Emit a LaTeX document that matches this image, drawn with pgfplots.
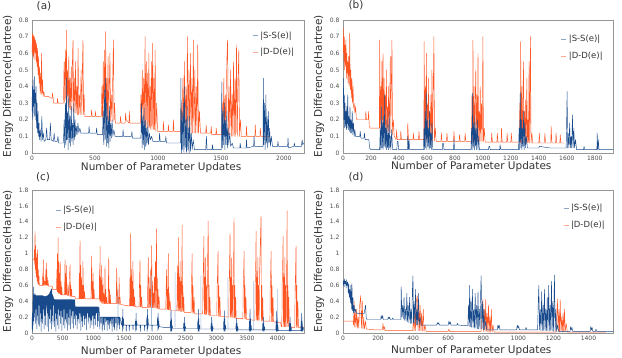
\documentclass[border=0pt]{standalone}
\usepackage{pgfplots}
\pgfplotsset{compat=1.18}
\usepackage{fontspec}
\setmainfont{DejaVu Sans}

\definecolor{sblue}{RGB}{25,75,140}
\definecolor{lblue}{RGB}{165,190,218}
\definecolor{dorange}{RGB}{255,85,35}
\definecolor{framegray}{RGB}{150,150,150}

\pgfplotsset{
  panel/.style={
    scale only axis,
    anchor=south west,
    xmin=0, ymin=0,
    axis line style={framegray, line width=0.7pt},
    major tick length=0pt,
    tick label style={font=\fontsize{6}{7}\selectfont, text=black!70},
    /pgf/number format/assume math mode=true,
    /pgf/number format/1000 sep={},
    scaled ticks=false,
    ylabel={Energy Difference(Hartree)},
    xlabel={Number of Parameter Updates},
    ylabel style={font=\fontsize{10.5}{12}\selectfont, text=black!80, anchor=center},
    legend cell align=left,
    reverse legend,
    legend style={draw=none, fill=none, font=\fontsize{8.5}{9}\selectfont, text=black!80,
      row sep=5pt, inner sep=0pt, anchor=north west},
    legend image code/.code={\draw[#1, line width=0.8pt, opacity=0.5] (0pt,0pt) -- (5pt,0pt);},
    every axis plot/.append style={line width=0.45pt, line join=round},
    clip=true,
  },
  small/.style={panel, height=133pt, ymax=0.8, ytick={0,0.1,...,0.8}},
  big/.style={panel, height=143pt, ymax=1.8, ytick={0,0.2,...,1.8}},
  xlab/.style={xlabel style={font=\fontsize{10.5}{12}\selectfont, text=black!80,
      at={(axis description cs:0.475,0)}, anchor=center, yshift=#1}},
}

\begin{document}
\begin{tikzpicture}
\useasboundingbox (0pt,0pt) rectangle (622pt,358pt);

\node[font=\fontsize{10.5}{12}\selectfont, text=black!80] at (44pt,352pt) {(a)};
\node[font=\fontsize{10.5}{12}\selectfont, text=black!80] at (356pt,353pt) {(b)};
\node[font=\fontsize{10.5}{12}\selectfont, text=black!80] at (43pt,181pt) {(c)};
\node[font=\fontsize{10.5}{12}\selectfont, text=black!80] at (356pt,181pt) {(d)};

% ---------------- (a)
\begin{axis}[small, at={(32pt,205pt)}, width=272pt, xmax=2160,
  xtick={0,500,1000,1500,2000}, xlab=-15pt,
  ylabel style={at={(axis description cs:-0.088,0.5)}},
  legend style={at={(axis description cs:0.81,0.93)}}]
\addplot[dorange] coordinates {
(0,0.60)(4,0.72)(8,0.58)(12,0.71)(16,0.56)(20,0.70)(24,0.60)(28,0.68)(32,0.55)(36,0.66)(40,0.52)(44,0.63)(48,0.47)(52,0.58)(56,0.42)(60,0.52)(64,0.36)(68,0.48)(72,0.35)(76,0.60)(80,0.36)(84,0.44)(88,0.34)(94,0.37)(100,0.34)
(130,0.34)(150,0.33)(160,0.33)(163,0.36)(168,0.33)(172,0.30)(200,0.30)(203,0.33)(206,0.30)(250,0.30)
(255,0.55)(260,0.30)(265,0.62)(270,0.32)(273,0.74)(277,0.30)(282,0.50)(287,0.28)(292,0.58)(297,0.27)(302,0.45)(307,0.26)(312,0.52)(317,0.25)(322,0.60)(326,0.68)(330,0.25)(336,0.45)(341,0.24)(346,0.55)(351,0.24)(356,0.40)(361,0.23)(366,0.63)(371,0.23)(377,0.35)(383,0.23)(390,0.50)(396,0.23)(401,0.55)(405,0.68)(409,0.23)(414,0.35)(420,0.22)
(470,0.22)(473,0.26)(478,0.22)(500,0.22)(503,0.25)(508,0.22)(550,0.22)
(555,0.40)(560,0.21)(566,0.55)(571,0.20)(577,0.62)(581,0.22)(585,0.73)(589,0.20)(594,0.45)(599,0.20)(604,0.58)(609,0.19)(614,0.40)(619,0.60)(624,0.19)(630,0.35)(636,0.19)(642,0.50)(647,0.68)(651,0.19)(656,0.30)(662,0.18)
(700,0.18)(703,0.22)(708,0.18)(740,0.18)(743,0.24)(748,0.20)(770,0.18)(773,0.25)(778,0.18)(860,0.18)
(865,0.35)(870,0.17)(876,0.50)(881,0.17)(887,0.45)(892,0.16)(898,0.70)(903,0.16)(908,0.55)(913,0.15)(918,0.48)(923,0.15)(928,0.60)(933,0.15)(938,0.40)(943,0.14)(948,0.55)(953,0.14)(958,0.66)(963,0.14)(968,0.45)(973,0.14)(978,0.62)(983,0.13)(990,0.30)(997,0.13)
(1040,0.13)(1043,0.19)(1048,0.13)(1080,0.13)(1083,0.17)(1088,0.13)(1120,0.13)(1123,0.20)(1128,0.13)(1180,0.13)
(1186,0.30)(1192,0.13)(1198,0.45)(1204,0.13)(1210,0.55)(1216,0.13)(1222,0.40)(1228,0.13)(1234,0.70)(1240,0.13)(1246,0.50)(1252,0.12)(1258,0.60)(1264,0.12)(1270,0.45)(1276,0.12)(1281,0.68)(1287,0.12)(1293,0.50)(1299,0.12)(1305,0.40)(1311,0.12)(1316,0.65)(1322,0.12)(1330,0.25)(1338,0.12)
(1380,0.12)(1383,0.17)(1388,0.12)(1420,0.12)(1423,0.16)(1428,0.11)(1460,0.11)(1463,0.15)(1468,0.11)(1505,0.11)
(1511,0.30)(1517,0.11)(1523,0.45)(1529,0.11)(1535,0.35)(1541,0.11)(1547,0.55)(1553,0.68)(1559,0.11)(1565,0.40)(1571,0.11)(1577,0.50)(1583,0.10)(1589,0.35)(1595,0.10)(1600,0.55)(1606,0.10)(1612,0.45)(1618,0.10)(1624,0.65)(1630,0.10)(1636,0.40)(1642,0.62)(1648,0.10)(1655,0.20)(1662,0.10)
(1700,0.10)(1703,0.16)(1708,0.10)(1770,0.10)(1773,0.17)(1778,0.10)(1810,0.10)(1813,0.15)(1818,0.10)(1890,0.10)
};
\addlegendentry{|D-D(e)|}
\addplot[sblue] coordinates {
(0,0.25)(3,0.40)(6,0.20)(9,0.44)(12,0.28)(15,0.38)(18,0.22)(21,0.46)(24,0.30)(27,0.36)(30,0.20)(33,0.40)(36,0.15)(40,0.30)(44,0.12)(48,0.25)(52,0.10)(56,0.18)(60,0.08)(66,0.14)(72,0.07)(78,0.22)(84,0.08)(90,0.12)(96,0.07)(110,0.08)(116,0.15)(122,0.08)(140,0.08)(146,0.18)(152,0.08)(170,0.07)(176,0.12)(182,0.07)(200,0.07)(206,0.10)(212,0.06)(250,0.06)
(255,0.20)(260,0.03)(265,0.30)(270,0.05)(273,0.45)(277,0.08)(282,0.25)(287,0.02)(292,0.35)(297,0.06)(302,0.22)(307,0.04)(312,0.28)(317,0.07)(322,0.18)(327,0.05)(332,0.30)(337,0.08)(342,0.20)(347,0.10)(352,0.16)(358,0.11)(365,0.18)(372,0.12)(380,0.15)(388,0.12)(420,0.12)
(450,0.12)(453,0.16)(458,0.12)(510,0.12)(513,0.15)(518,0.11)(560,0.11)
(565,0.25)(570,0.05)(575,0.38)(580,0.08)(585,0.45)(590,0.04)(595,0.30)(600,0.06)(605,0.22)(610,0.03)(615,0.28)(620,0.07)(625,0.18)(630,0.09)(636,0.20)(642,0.10)(650,0.14)(660,0.10)
(720,0.10)(723,0.14)(728,0.10)(790,0.10)(793,0.13)(798,0.09)(865,0.09)
(870,0.30)(875,0.03)(880,0.22)(885,0.05)(890,0.27)(895,0.02)(900,0.20)(905,0.04)(910,0.15)(915,0.06)(920,0.18)(925,0.05)(932,0.12)(940,0.08)(950,0.10)(960,0.07)
(1010,0.07)(1013,0.12)(1018,0.07)(1060,0.07)(1063,0.10)(1068,0.06)(1180,0.06)
(1182,0.45)(1187,0.00)(1192,0.25)(1197,0.02)(1202,0.30)(1207,0.00)(1212,0.40)(1217,0.03)(1222,0.20)(1227,0.00)(1232,0.28)(1237,0.02)(1242,0.15)(1247,0.00)(1252,0.22)(1258,0.01)(1265,0.12)(1272,0.02)(1280,0.08)(1290,0.02)
(1380,0.02)(1385,0.10)(1390,0.02)(1430,0.02)(1433,0.05)(1438,0.02)(1505,0.02)
(1507,0.43)(1512,0.03)(1517,0.25)(1522,0.05)(1527,0.30)(1532,0.02)(1537,0.20)(1542,0.05)(1547,0.25)(1552,0.03)(1557,0.15)(1563,0.05)(1570,0.12)(1578,0.04)(1590,0.06)(1600,0.03)
(1650,0.03)(1653,0.06)(1658,0.03)(1700,0.03)(1703,0.08)(1708,0.03)(1760,0.04)(1763,0.10)(1768,0.04)(1835,0.04)
(1837,0.45)(1842,0.05)(1847,0.30)(1852,0.02)(1857,0.35)(1862,0.06)(1867,0.22)(1872,0.03)(1877,0.25)(1882,0.06)(1887,0.15)(1893,0.04)(1900,0.10)(1910,0.04)
(1950,0.04)(1953,0.07)(1958,0.04)(2030,0.04)(2033,0.09)(2038,0.03)(2080,0.04)(2083,0.06)(2088,0.04)(2140,0.04)(2145,0.08)(2150,0.05)(2160,0.06)
};
\addlegendentry{|S-S(e)|}
\end{axis}

% ---------------- (b)
\begin{axis}[small, at={(343pt,205pt)}, width=270pt, xmax=1930,
  xtick={0,200,...,1800}, xlab=-14pt,
  ylabel style={at={(axis description cs:-0.089,0.5)}},
  legend style={at={(axis description cs:0.807,0.9)}}]
\addplot[dorange] coordinates {
(0,0.60)(3,0.75)(6,0.55)(9,0.70)(12,0.50)(15,0.65)(18,0.52)(21,0.68)(24,0.45)(27,0.60)(30,0.48)(33,0.55)(36,0.42)(40,0.58)(44,0.40)(48,0.72)(52,0.38)(56,0.50)(60,0.33)(64,0.45)(68,0.30)(72,0.40)(76,0.27)(80,0.30)(85,0.24)(90,0.28)(95,0.21)(100,0.20)
(160,0.20)(163,0.25)(168,0.20)(180,0.20)(183,0.25)(188,0.16)(195,0.15)(260,0.15)
(262,0.68)(266,0.15)(270,0.40)(274,0.15)(278,0.55)(282,0.14)(286,0.60)(290,0.14)(294,0.45)(298,0.14)(302,0.35)(306,0.13)(310,0.50)(314,0.13)(318,0.28)(322,0.13)(326,0.40)(330,0.12)(334,0.30)(338,0.58)(342,0.12)(346,0.45)(350,0.68)(354,0.11)(360,0.20)(366,0.10)(375,0.09)
(380,0.08)(383,0.14)(388,0.08)(410,0.08)(413,0.13)(418,0.08)(460,0.08)(463,0.18)(468,0.08)(500,0.08)(503,0.12)(508,0.08)(540,0.08)(543,0.13)(548,0.08)(578,0.08)
(580,0.67)(584,0.08)(588,0.40)(592,0.08)(596,0.60)(600,0.08)(604,0.30)(608,0.08)(612,0.45)(616,0.07)(620,0.25)(624,0.07)(628,0.35)(632,0.07)(636,0.50)(640,0.07)(644,0.30)(650,0.70)(654,0.07)(660,0.15)(666,0.07)
(700,0.07)(703,0.12)(708,0.07)(740,0.07)(743,0.12)(748,0.07)(790,0.07)(793,0.13)(798,0.07)(830,0.07)(833,0.11)(838,0.07)(870,0.07)(873,0.12)(878,0.07)(918,0.07)
(922,0.35)(926,0.07)(929,0.68)(933,0.07)(937,0.40)(941,0.07)(945,0.30)(949,0.50)(953,0.07)(957,0.35)(961,0.07)(965,0.60)(969,0.07)(973,0.25)(977,0.07)(981,0.40)(985,0.07)(990,0.30)(995,0.07)(1000,0.70)(1004,0.07)(1010,0.15)(1016,0.065)
(1060,0.065)(1063,0.12)(1068,0.065)(1100,0.065)(1103,0.12)(1108,0.065)(1130,0.065)(1133,0.15)(1138,0.065)(1170,0.065)(1173,0.12)(1178,0.065)(1200,0.065)(1203,0.12)(1208,0.065)(1260,0.065)
(1264,0.30)(1268,0.06)(1270,0.67)(1274,0.06)(1278,0.40)(1282,0.06)(1286,0.30)(1290,0.55)(1294,0.06)(1298,0.25)(1302,0.06)(1306,0.32)(1310,0.06)(1314,0.45)(1318,0.06)(1322,0.20)(1326,0.06)(1330,0.55)(1334,0.06)(1340,0.70)(1344,0.06)(1350,0.12)(1356,0.06)
(1400,0.06)(1403,0.12)(1408,0.06)(1440,0.06)(1443,0.12)(1448,0.06)(1485,0.06)(1488,0.16)(1493,0.06)(1520,0.06)(1523,0.12)(1528,0.06)(1550,0.06)(1553,0.11)(1558,0.06)(1583,0.06)
};
\addlegendentry{|D-D(e)|}
\addplot[sblue] coordinates {
(0,0.30)(3,0.45)(6,0.20)(9,0.35)(12,0.15)(15,0.30)(18,0.16)(21,0.25)(24,0.14)(27,0.28)(30,0.15)(34,0.35)(38,0.14)(42,0.22)(46,0.13)(50,0.28)(54,0.12)(58,0.20)(62,0.12)(66,0.25)(70,0.11)(75,0.18)(80,0.10)(85,0.14)(90,0.10)(120,0.10)(123,0.13)(128,0.09)(150,0.09)(153,0.12)(158,0.08)(185,0.08)(190,0.03)(200,0.02)(262,0.02)
(266,0.15)(270,0.02)(274,0.28)(278,0.03)(282,0.18)(286,0.02)(290,0.22)(294,0.04)(298,0.35)(302,0.03)(306,0.15)(310,0.02)(314,0.20)(318,0.03)(322,0.12)(326,0.02)(330,0.25)(334,0.03)(338,0.10)(342,0.02)(348,0.14)(354,0.02)
(385,0.02)(388,0.07)(393,0.07)(398,0.02)(460,0.02)(463,0.10)(468,0.02)(472,0.08)(476,0.02)(575,0.02)
(579,0.15)(583,0.02)(587,0.25)(591,0.03)(595,0.37)(599,0.02)(603,0.20)(607,0.04)(611,0.15)(615,0.02)(619,0.25)(623,0.03)(627,0.12)(631,0.02)(636,0.18)(642,0.02)
(710,0.02)(713,0.06)(718,0.06)(722,0.02)(790,0.02)(793,0.08)(798,0.02)(915,0.02)
(919,0.15)(923,0.02)(927,0.36)(931,0.03)(935,0.18)(939,0.02)(943,0.22)(947,0.04)(951,0.15)(955,0.02)(960,0.20)(965,0.02)(970,0.10)(975,0.02)
(1040,0.02)(1043,0.04)(1048,0.04)(1052,0.02)(1120,0.02)(1123,0.05)(1128,0.02)(1255,0.02)
(1259,0.15)(1263,0.02)(1267,0.37)(1271,0.03)(1275,0.20)(1279,0.02)(1283,0.15)(1287,0.04)(1291,0.25)(1295,0.02)(1300,0.18)(1305,0.03)(1310,0.10)(1318,0.03)
(1400,0.03)(1403,0.04)(1480,0.03)(1595,0.03)
(1598,0.15)(1602,0.37)(1606,0.03)(1610,0.12)(1615,0.03)(1620,0.18)(1625,0.03)(1630,0.10)(1635,0.03)(1640,0.23)(1645,0.03)(1650,0.15)(1655,0.03)(1662,0.08)(1670,0.02)
(1720,0.02)(1723,0.04)(1728,0.02)(1815,0.02)(1817,0.12)(1821,0.02)(1825,0.08)(1830,0.02)(1930,0.02)
};
\addlegendentry{|S-S(e)|}
\end{axis}

% ---------------- (c)
\begin{axis}[big, at={(32pt,25pt)}, width=272pt, xmax=4430,
  xtick={0,500,...,4000}, xlab=-19pt,
  ylabel style={at={(axis description cs:-0.088,0.5)}},
  legend style={at={(axis description cs:0.085,0.9)}}]
\addplot[dorange] coordinates {
(0,0.92)(35,0.92)(40,1.05)(45,0.85)(49,1.28)(53,0.80)(58,1.10)(63,0.75)(68,1.00)(73,0.70)(78,0.95)(84,0.65)(90,1.05)(96,0.62)(102,0.80)(108,0.61)(114,0.72)(120,0.60)(170,0.60)
(176,0.75)(180,0.60)(184,0.92)(188,0.60)(194,0.70)(200,0.60)(210,0.65)(218,0.60)(226,0.80)(232,0.60)(239,0.88)(244,0.60)(250,0.70)(256,0.60)(262,0.66)(268,0.59)(330,0.59)(335,0.55)(400,0.55)
(405,0.80)(410,0.52)(415,1.00)(420,0.52)(425,1.20)(430,0.50)(436,0.90)(442,0.50)(448,0.75)(454,0.49)(460,0.90)(466,0.48)(472,0.65)(478,0.48)(485,0.58)(492,0.48)(530,0.48)
(534,0.70)(538,0.92)(542,0.48)(548,0.75)(554,0.48)(560,0.85)(566,0.48)(572,0.62)(578,0.47)(590,0.47)(600,0.60)(606,0.47)(613,0.75)(620,0.86)(626,0.46)(632,0.60)(638,0.46)(645,0.55)(652,0.46)(700,0.46)(705,0.43)(765,0.43)
(770,0.75)(776,0.43)(782,1.17)(788,0.43)(794,0.85)(800,0.43)(806,0.70)(812,0.43)(818,0.60)(824,0.43)(830,0.90)(836,0.43)(842,0.60)(848,0.43)(856,0.52)(864,0.43)(960,0.43)
(966,0.70)(972,0.97)(978,0.43)(984,0.65)(990,0.43)(996,0.75)(1002,0.43)(1010,0.55)(1018,0.43)(1095,0.43)
(1100,0.80)(1105,0.40)(1108,1.09)(1112,0.40)(1118,0.70)(1124,0.38)(1130,0.85)(1136,0.38)(1142,0.60)(1148,0.37)(1155,0.70)(1162,0.37)(1170,0.50)(1178,0.37)
(1183,0.37)(1189,0.84)(1195,0.37)(1201,0.55)(1207,0.37)(1215,0.45)(1222,0.37)(1240,0.37)(1245,0.70)(1250,0.95)(1255,0.37)(1262,0.55)(1268,0.37)(1275,0.48)(1282,0.37)(1370,0.37)
(1375,0.60)(1380,0.82)(1385,0.37)(1392,0.55)(1398,0.37)(1405,0.45)(1412,0.37)(1420,0.70)(1426,0.36)(1434,0.45)(1442,0.36)(1500,0.35)(1590,0.34)
(1596,0.70)(1602,0.34)(1608,1.26)(1614,0.34)(1620,0.80)(1626,0.34)(1632,0.65)(1638,0.34)(1644,0.90)(1650,0.34)(1657,0.55)(1664,0.33)(1672,0.45)(1680,0.33)(1745,0.33)
(1750,0.60)(1759,0.92)(1765,0.33)(1772,0.60)(1778,0.33)(1786,0.45)(1794,0.32)(1880,0.32)
(1885,0.60)(1895,0.95)(1901,0.32)(1908,0.70)(1914,0.32)(1920,0.55)(1926,0.32)(1934,0.80)(1940,0.32)(1949,1.10)(1955,0.32)(1962,0.65)(1968,0.32)(1976,0.50)(1984,0.32)(1992,0.70)(2000,0.32)(2010,0.90)(2018,0.32)(2027,1.31)(2033,0.31)(2040,0.70)(2046,0.31)(2054,0.55)(2062,0.30)(2070,0.45)(2080,0.30)(2180,0.30)
(2185,0.60)(2194,0.80)(2200,0.30)(2206,0.55)(2212,0.29)(2220,1.00)(2226,0.29)(2234,0.50)(2242,0.29)(2250,0.40)(2260,0.28)(2360,0.28)
(2365,0.60)(2372,0.85)(2378,0.28)(2384,1.20)(2390,0.28)(2398,0.70)(2404,0.28)(2412,0.90)(2418,0.27)(2426,0.65)(2432,0.27)(2440,0.80)(2445,1.36)(2451,0.27)(2458,0.60)(2464,0.27)(2472,0.45)(2480,0.26)(2590,0.26)
(2595,0.55)(2602,0.75)(2608,1.00)(2614,0.25)(2622,0.60)(2630,0.25)(2640,0.45)(2650,0.24)(2780,0.24)
(2785,0.60)(2792,0.85)(2800,1.22)(2806,0.24)(2814,0.70)(2820,0.23)(2828,0.95)(2834,0.23)(2842,0.60)(2850,0.23)(2858,0.80)(2870,1.41)(2876,0.23)(2884,0.60)(2890,0.22)(2898,0.45)(2906,0.22)(3010,0.22)
(3015,0.55)(3022,0.75)(3030,1.03)(3036,0.21)(3044,0.60)(3050,0.21)(3060,0.45)(3070,0.21)(3205,0.20)
(3210,0.60)(3218,0.85)(3225,1.26)(3231,0.20)(3239,0.70)(3245,0.20)(3253,0.95)(3259,0.20)(3267,0.60)(3275,0.19)(3283,0.80)(3290,1.45)(3296,0.19)(3304,0.60)(3310,0.19)(3318,0.45)(3326,0.18)(3435,0.18)
(3440,0.55)(3447,0.75)(3455,1.03)(3461,0.18)(3469,0.60)(3475,0.18)(3485,0.45)(3495,0.17)(3630,0.16)
(3635,0.60)(3643,0.85)(3650,1.28)(3656,0.16)(3664,0.70)(3670,0.16)(3678,0.95)(3684,0.16)(3692,0.60)(3700,0.16)(3708,0.80)(3730,1.47)(3736,0.15)(3744,0.60)(3750,0.15)(3758,0.45)(3766,0.15)(3875,0.15)
(3880,0.55)(3887,0.75)(3895,1.03)(3901,0.14)(3909,0.60)(3915,0.14)(3925,0.45)(3935,0.14)(4050,0.13)(4060,0.08)(4070,0.08)
(4075,0.60)(4082,0.85)(4090,1.22)(4096,0.08)(4104,0.70)(4110,0.08)(4118,0.95)(4124,0.08)(4132,0.60)(4140,0.08)(4148,0.80)(4155,1.54)(4161,0.08)(4169,0.60)(4175,0.08)(4183,0.45)(4191,0.07)(4280,0.07)
(4285,0.55)(4292,0.75)(4300,1.10)(4306,0.07)(4314,0.60)(4320,0.07)(4330,0.40)(4340,0.07)(4430,0.07)
};
\addlegendentry{|D-D(e)|}
\addplot[lblue, forget plot, unbounded coords=jump] coordinates {
(1398,0.2)(1400,0.60)(1403,0.2)(1500,nan)
(1943,0.1)(1945,0.72)(1948,0.1)(2000,nan)
(2328,0.07)(2330,0.77)(2333,0.07)(2400,nan)
(2748,0.06)(2750,0.72)(2753,0.06)(2800,nan)
(3188,0.05)(3190,0.70)(3193,0.05)(3300,nan)
(3603,0.04)(3605,0.65)(3608,0.04)(3700,nan)
(3994,0.04)(3996,0.55)(3999,0.04)
};
\addplot[sblue] coordinates {
(0,0.05)(5,0.25)(10,0.02)(15,0.40)(20,0.10)(25,0.58)(30,0.15)(35,0.48)(40,0.20)(45,0.50)
(50,0.48)(54,0.12)(58,0.48)(62,0.47)(66,0.30)(70,0.47)(74,0.47)(78,0.05)(82,0.47)(86,0.47)(90,0.22)(94,0.47)(98,0.47)(102,0.10)(106,0.47)(110,0.47)(114,0.35)(118,0.47)(122,0.47)(126,0.08)(130,0.47)(134,0.47)(138,0.25)(142,0.47)(146,0.47)(150,0.02)(154,0.47)(158,0.47)(162,0.18)(166,0.47)(170,0.47)(174,0.12)(178,0.47)(182,0.46)(186,0.30)(190,0.46)(194,0.46)(198,0.05)(202,0.46)(206,0.46)(210,0.22)(214,0.46)(218,0.46)(222,0.10)(226,0.46)(230,0.46)(234,0.35)(238,0.46)(242,0.47)(246,0.08)(250,0.47)(254,0.47)(258,0.25)(262,0.47)(266,0.48)(270,0.02)(274,0.48)(278,0.49)(282,0.18)(286,0.50)(290,0.51)(294,0.12)(298,0.52)(302,0.53)(306,0.30)(310,0.54)(314,0.55)(318,0.05)(322,0.56)(326,0.50)(330,0.22)(334,0.48)(338,0.47)(342,0.10)(346,0.46)(350,0.45)(354,0.35)(358,0.43)
(362,0.42)(366,0.08)(370,0.42)(374,0.42)(378,0.25)(382,0.42)(386,0.42)(390,0.02)(394,0.42)(398,0.42)(402,0.18)(406,0.42)(410,0.42)(414,0.10)(418,0.42)(422,0.42)(426,0.30)(430,0.42)(434,0.42)(438,0.05)(442,0.42)(446,0.42)(450,0.22)(454,0.42)(458,0.42)(462,0.12)(466,0.42)(470,0.42)(474,0.28)(478,0.42)(482,0.42)(486,0.03)(490,0.42)(494,0.42)(498,0.20)(502,0.42)(506,0.42)(510,0.10)(514,0.42)(518,0.42)(522,0.30)(526,0.42)(530,0.42)(534,0.06)(538,0.42)(542,0.42)(546,0.18)(550,0.42)(554,0.42)(558,0.12)(562,0.42)(566,0.42)(570,0.25)(574,0.42)(578,0.42)(582,0.03)(586,0.42)(590,0.42)(594,0.20)(598,0.42)(602,0.42)(606,0.10)(610,0.42)(614,0.42)(618,0.30)(622,0.42)(626,0.42)(630,0.05)(634,0.42)(638,0.42)(642,0.22)(646,0.42)(650,0.42)(654,0.12)(658,0.42)(662,0.42)(666,0.28)(670,0.42)(674,0.42)(678,0.06)(682,0.42)(686,0.42)(690,0.18)(694,0.42)(698,0.40)
(702,0.33)(706,0.10)(710,0.33)(717,0.33)(721,0.22)(725,0.33)(732,0.33)(736,0.05)(740,0.33)(747,0.33)(751,0.18)(755,0.33)(762,0.33)(766,0.12)(770,0.33)(777,0.33)(781,0.25)(785,0.33)(792,0.33)(796,0.03)(800,0.33)(807,0.33)(811,0.15)(815,0.33)(822,0.33)(826,0.08)(830,0.33)(837,0.33)(841,0.22)(845,0.33)(852,0.33)(856,0.10)(860,0.33)(867,0.33)(871,0.18)(875,0.33)(882,0.33)(886,0.04)(890,0.33)(897,0.33)(901,0.25)(905,0.33)(912,0.33)(916,0.12)(920,0.33)(927,0.33)(931,0.20)(935,0.33)(942,0.33)(946,0.06)(950,0.33)(957,0.33)(961,0.15)(965,0.33)(972,0.33)(976,0.10)(980,0.33)(987,0.33)(991,0.22)(995,0.33)(1002,0.33)(1006,0.05)(1010,0.33)(1017,0.33)(1021,0.18)(1025,0.33)(1032,0.33)(1036,0.10)(1040,0.33)(1047,0.33)(1051,0.25)(1055,0.33)(1062,0.33)(1066,0.08)(1070,0.33)(1077,0.33)(1081,0.15)(1085,0.32)(1092,0.32)
(1100,0.20)(1104,0.05)(1108,0.20)(1120,0.20)(1124,0.12)(1128,0.20)(1140,0.20)(1144,0.02)(1148,0.20)(1160,0.20)(1164,0.10)(1168,0.20)(1180,0.20)(1184,0.04)(1188,0.20)(1200,0.20)(1204,0.14)(1208,0.20)(1220,0.20)(1224,0.03)(1228,0.20)(1240,0.20)(1244,0.10)(1248,0.20)(1260,0.20)(1264,0.05)(1268,0.20)(1280,0.20)(1284,0.12)(1288,0.20)(1300,0.20)(1304,0.02)(1308,0.20)(1320,0.20)(1324,0.08)(1328,0.20)(1340,0.20)(1344,0.04)(1348,0.20)(1360,0.20)(1364,0.12)(1368,0.20)(1380,0.20)(1384,0.03)(1388,0.20)(1400,0.20)(1404,0.10)(1408,0.20)(1420,0.20)(1424,0.05)(1428,0.20)(1440,0.18)(1450,0.12)
(1460,0.10)(1470,0.20)(1475,0.02)(1480,0.30)(1485,0.05)(1490,0.18)(1496,0.10)(1530,0.10)(1535,0.02)(1540,0.10)(1580,0.10)(1585,0.03)(1590,0.10)(1640,0.10)(1645,0.04)(1650,0.10)(1680,0.10)(1685,0.15)(1690,0.02)(1695,0.25)(1700,0.04)(1705,0.15)(1712,0.10)(1760,0.10)(1765,0.02)(1770,0.10)(1830,0.10)(1835,0.03)(1840,0.10)(1865,0.10)(1870,0.20)(1875,0.02)(1880,0.30)(1885,0.05)(1890,0.18)(1896,0.10)(1950,0.10)(1955,0.02)(1960,0.10)(2040,0.10)(2045,0.20)(2050,0.03)(2055,0.25)(2060,0.05)(2065,0.15)(2072,0.08)
(2150,0.07)(2249,0.07)(2254,0.15)(2258,0.02)(2262,0.20)(2264,0.30)(2268,0.03)(2272,0.18)(2276,0.02)(2282,0.10)(2290,0.06)
(2466,0.06)(2471,0.12)(2475,0.02)(2479,0.14)(2481,0.20)(2485,0.03)(2489,0.12)(2493,0.02)(2499,0.08)(2506,0.06)
(2695,0.06)(2700,0.15)(2704,0.02)(2708,0.20)(2710,0.30)(2714,0.03)(2718,0.18)(2722,0.02)(2728,0.10)(2736,0.05)
(2912,0.05)(2917,0.12)(2921,0.02)(2925,0.14)(2927,0.20)(2931,0.03)(2935,0.12)(2939,0.02)(2945,0.08)(2952,0.05)
(3118,0.05)(3123,0.15)(3127,0.02)(3131,0.20)(3133,0.28)(3137,0.03)(3141,0.18)(3145,0.02)(3151,0.10)(3159,0.05)
(3319,0.05)(3324,0.12)(3328,0.02)(3332,0.14)(3334,0.18)(3338,0.03)(3342,0.12)(3346,0.02)(3352,0.08)(3359,0.04)
(3536,0.04)(3541,0.15)(3545,0.02)(3549,0.20)(3551,0.30)(3555,0.03)(3559,0.18)(3563,0.02)(3569,0.10)(3577,0.04)
(3753,0.04)(3758,0.12)(3762,0.02)(3766,0.14)(3768,0.20)(3772,0.03)(3776,0.12)(3780,0.02)(3786,0.08)(3793,0.04)
(3971,0.04)(3976,0.15)(3980,0.02)(3984,0.20)(3986,0.28)(3990,0.03)(3994,0.18)(3998,0.02)(4004,0.10)(4012,0.03)
(4188,0.03)(4193,0.12)(4197,0.02)(4201,0.14)(4203,0.20)(4207,0.03)(4211,0.12)(4215,0.02)(4221,0.08)(4228,0.03)
(4378,0.03)(4383,0.15)(4387,0.02)(4391,0.18)(4393,0.25)(4397,0.03)(4401,0.15)(4405,0.02)(4411,0.08)(4430,0.03)
};
\addlegendentry{|S-S(e)|}
\end{axis}

% ---------------- (d)
\begin{axis}[big, at={(343pt,25pt)}, width=270pt, xmax=1540,
  xtick={0,200,...,1400}, xlab=-18pt,
  ylabel style={at={(axis description cs:-0.089,0.5)}},
  legend style={at={(axis description cs:0.815,0.915)}}]
\addplot[dorange] coordinates {
(0,0.15)(58,0.15)(60,0.10)(63,0.40)(66,0.08)(70,0.25)(74,0.07)(78,0.30)(82,0.06)(86,0.20)(90,0.06)(95,0.35)(101,0.47)(105,0.06)(110,0.40)(114,0.05)(118,0.20)(122,0.05)(129,0.15)(133,0.05)(180,0.04)(225,0.04)(228,0.12)(232,0.04)(236,0.08)(240,0.03)(398,0.03)
(402,0.20)(406,0.03)(410,0.30)(414,0.03)(418,0.40)(424,0.47)(428,0.03)(432,0.40)(436,0.03)(440,0.35)(444,0.03)(448,0.25)(452,0.02)(458,0.30)(462,0.02)(468,0.10)(474,0.02)
(600,0.02)(604,0.05)(608,0.02)(788,0.02)
(792,0.20)(798,0.43)(802,0.02)(806,0.30)(810,0.02)(814,0.42)(818,0.02)(822,0.25)(826,0.01)(830,0.35)(834,0.01)(838,0.20)(842,0.01)(846,0.30)(850,0.01)(856,0.10)(862,0.01)(1215,0.01)
(1219,0.20)(1223,0.43)(1227,0.01)(1231,0.30)(1235,0.01)(1239,0.42)(1243,0.01)(1247,0.20)(1251,0.01)(1255,0.25)(1259,0.01)(1263,0.30)(1267,0.01)(1273,0.12)(1280,0.01)(1500,0.01)
};
\addlegendentry{|D-D(e)|}
\addplot[sblue] coordinates {
(0,0.60)(3,0.66)(6,0.58)(9,0.68)(12,0.62)(15,0.65)(18,0.57)(21,0.67)(24,0.60)(27,0.64)(30,0.50)(33,0.62)(36,0.45)(39,0.55)(42,0.38)(45,0.60)(48,0.30)(51,0.62)(54,0.28)(57,0.45)(60,0.25)(64,0.35)(68,0.25)(72,0.30)(76,0.25)(120,0.24)(125,0.30)(129,0.35)(132,0.20)(136,0.17)
(215,0.17)(218,0.22)(222,0.18)(226,0.22)(230,0.17)(255,0.17)(258,0.20)(262,0.18)(266,0.20)(270,0.17)(280,0.17)(284,0.19)(288,0.17)(330,0.17)
(332,0.58)(336,0.20)(340,0.35)(344,0.18)(348,0.45)(352,0.16)(356,0.30)(360,0.15)(364,0.50)(368,0.14)(372,0.35)(376,0.13)(380,0.45)(384,0.12)(388,0.30)(392,0.12)(396,0.55)(399,0.72)(402,0.12)(406,0.40)(410,0.11)(414,0.55)(418,0.10)(422,0.30)(426,0.10)(430,0.50)(434,0.10)(440,0.20)(446,0.10)
(535,0.10)(538,0.13)(542,0.11)(546,0.13)(550,0.10)(600,0.10)(604,0.15)(608,0.11)(612,0.14)(616,0.10)(650,0.10)(653,0.12)(657,0.10)(712,0.09)
(716,0.35)(720,0.08)(722,0.60)(726,0.08)(730,0.40)(734,0.07)(738,0.55)(742,0.07)(746,0.30)(750,0.06)(754,0.50)(758,0.06)(762,0.35)(766,0.05)(770,0.52)(774,0.05)(778,0.30)(782,0.05)(786,0.60)(788,0.72)(792,0.05)(796,0.40)(800,0.04)(804,0.30)(808,0.04)(814,0.15)(820,0.04)
(880,0.04)(883,0.10)(887,0.06)(891,0.10)(895,0.04)(990,0.04)(994,0.10)(998,0.06)(1002,0.09)(1006,0.04)(1040,0.04)(1044,0.07)(1048,0.04)(1110,0.04)
(1114,0.40)(1117,0.60)(1121,0.04)(1125,0.30)(1129,0.03)(1133,0.52)(1137,0.03)(1141,0.35)(1145,0.03)(1149,0.55)(1153,0.03)(1157,0.30)(1161,0.03)(1165,0.45)(1169,0.03)(1173,0.60)(1177,0.03)(1181,0.35)(1185,0.03)(1189,0.65)(1193,0.03)(1197,0.40)(1201,0.02)(1206,0.73)(1210,0.02)(1214,0.30)(1218,0.02)(1224,0.10)(1230,0.02)
(1295,0.02)(1298,0.08)(1302,0.04)(1306,0.07)(1310,0.02)(1410,0.02)(1413,0.08)(1417,0.04)(1421,0.07)(1425,0.02)(1440,0.02)(1443,0.05)(1447,0.02)(1540,0.02)
};
\addlegendentry{|S-S(e)|}
\end{axis}
\end{tikzpicture}
\end{document}
